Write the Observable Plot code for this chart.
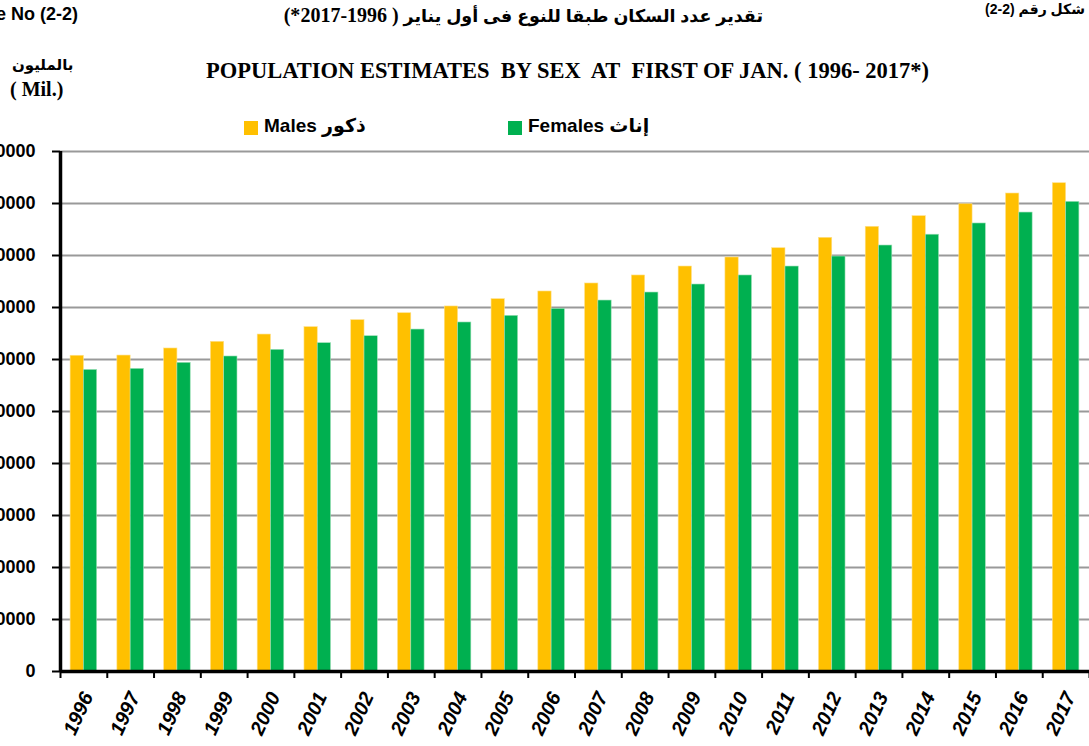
<!DOCTYPE html>
<html>
<head>
<meta charset="utf-8">
<script src="https://cdn.jsdelivr.net/npm/d3@7"></script>
<script src="https://cdn.jsdelivr.net/npm/@observablehq/plot@0.6"></script>
<style>
  html, body { margin: 0; padding: 0; background: #fff; }
  #page { position: relative; width: 1089px; height: 746px; overflow: hidden; background: #fff; }
  .t { position: absolute; white-space: nowrap; font-weight: bold; color: #000; }
  #chart { position: absolute; left: 0; top: 0; }
</style>
</head>
<body>
<div id="page">
  <div class="t" style="right:1011px; top:4px; font-family:'Liberation Sans','DejaVu Sans',sans-serif; font-size:18px;">Figure No (2-2)</div>
  <div class="t" dir="rtl" style="right:326px; top:4px; font-family:'Liberation Sans','DejaVu Sans',sans-serif; font-size:17.5px;">تقدير عدد السكان  طبقا للنوع فى أول يناير <span style="font-family:'Liberation Serif','DejaVu Serif',serif; font-size:20px;">( 1996-2017*)</span></div>
  <div class="t" dir="rtl" style="right:4px; top:1px; font-family:'Liberation Sans','DejaVu Sans',sans-serif; font-size:14px;">شكل رقم (2-2)</div>
  <div class="t" dir="rtl" style="left:12px; top:56px; font-family:'Liberation Sans','DejaVu Sans',sans-serif; font-size:15px;">بالمليون</div>
  <div class="t" style="left:10px; top:78px; font-family:'Liberation Serif','DejaVu Serif',serif; font-size:20px;">( Mil.)</div>
  <div class="t" style="left:206px; top:58px; font-family:'Liberation Serif','DejaVu Serif',serif; font-size:22.5px;">POPULATION ESTIMATES&nbsp; BY SEX&nbsp; AT&nbsp; FIRST OF JAN. ( 1996- 2017*)</div>
  <div id="legend"></div>
  <div id="chart"></div>
</div>
<script>
const years = [1996,1997,1998,1999,2000,2001,2002,2003,2004,2005,2006,2007,2008,2009,2010,2011,2012,2013,2014,2015,2016,2017];
const males = [30.36,30.38,31.06,31.70,32.40,33.11,33.78,34.45,35.10,35.80,36.54,37.31,38.08,38.94,39.81,40.70,41.70,42.76,43.78,44.93,45.96,46.95];
const females = [29.00,29.10,29.68,30.29,30.93,31.57,32.24,32.88,33.56,34.20,34.87,35.67,36.44,37.21,38.08,38.94,39.90,40.96,42.00,43.08,44.13,45.16];
const yTicks = [0,5,10,15,20,25,30,35,40,45,50];
const seriesNames = ["Males ذكور", "Females إناث"];
const seriesColors = ["#FFC000", "#00B050"];

const barW = 0.284;
const maleData = years.map((yr, i) => ({year: yr, value: males[i]}));
const femaleData = years.map((yr, i) => ({year: yr, value: females[i]}));
const boundaries = years.map(yr => yr - 0.5).concat([years[years.length - 1] + 0.5]);
const xDomain = [boundaries[0], boundaries[boundaries.length - 1]];
const fontSans = "'Liberation Sans','DejaVu Sans',sans-serif";

const chart = Plot.plot({
  width: 1089,
  height: 746,
  marginTop: 151,
  marginBottom: 75,
  marginLeft: 60,
  marginRight: 0,
  style: {fontFamily: fontSans, fontSize: "18px", fontWeight: "bold", color: "#000", background: "transparent"},
  x: {type: "linear", domain: xDomain},
  y: {domain: [0, 50]},
  marks: [
    Plot.gridY(yTicks.filter(v => v > 0), {stroke: "#999", strokeWidth: 2, strokeOpacity: 1}),
    Plot.rectY(maleData, {x1: d => d.year - barW, x2: d => d.year, y1: 0, y2: "value", fill: seriesColors[0], stroke: "#FFE08A", strokeWidth: 0.6}),
    Plot.rectY(femaleData, {x1: d => d.year, x2: d => d.year + barW, y1: 0, y2: "value", fill: seriesColors[1], stroke: "#9FE0B8", strokeWidth: 0.6}),
    Plot.axisY({ticks: yTicks, tickSize: 8, tickPadding: 17, strokeWidth: 2, stroke: "#000",
      tickFormat: d => d === 0 ? "0" : d.toFixed(4), fontSize: 18, fontWeight: "bold", label: null}),
    Plot.axisX({ticks: boundaries, tickSize: 7, strokeWidth: 2, stroke: "#000", tickFormat: () => "", label: null}),
    Plot.ruleX([xDomain[0]], {stroke: "#000", strokeWidth: 3.5}),
    Plot.ruleY([0], {x1: xDomain[0], x2: xDomain[1], stroke: "#000", strokeWidth: 3.5}),
    Plot.text(years, {x: d => d, y: 0, text: d => String(d), rotate: -65, textAnchor: "end", lineAnchor: "middle",
      dx: 4, dy: 22, fontSize: 20, fontWeight: "bold", fontStyle: "italic", fill: "#000"})
  ]
});
document.getElementById("chart").appendChild(chart);

// legend
const legend = document.getElementById("legend");
const legendPos = [244, 508];
seriesNames.forEach((name, i) => {
  const sw = document.createElement("div");
  sw.style.cssText = `position:absolute;left:${legendPos[i]}px;top:121px;width:14px;height:14px;background:${seriesColors[i]};`;
  legend.appendChild(sw);
  const tx = document.createElement("div");
  tx.className = "t";
  tx.style.cssText = `left:${legendPos[i] + 20}px;top:114px;font-family:${fontSans};font-size:19px;`;
  tx.textContent = name;
  legend.appendChild(tx);
});
</script>
</body>
</html>
